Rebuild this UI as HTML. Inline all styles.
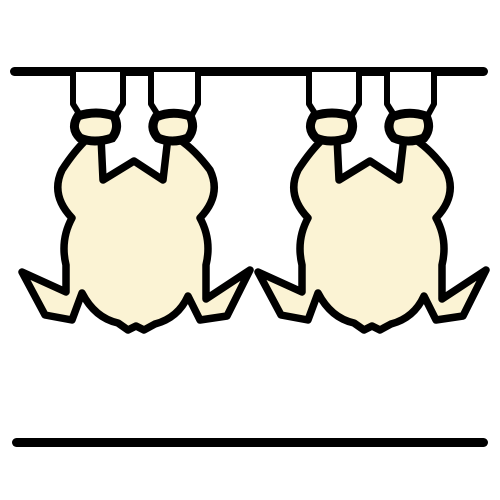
<!DOCTYPE html>
<html><head><meta charset="utf-8"><style>html,body{margin:0;padding:0;background:#fff}svg{display:block}</style></head>
<body>
<svg width="500" height="500" viewBox="0 0 500 500">
<defs>
<g id="chicken">
  <path d="M73,72 V104 L80,115 H116 L123,104 V72" fill="#fff" stroke="#000" stroke-width="6" stroke-linejoin="round"/>
  <path d="M151,72 V104 L158,115 H192 L198,104 V72" fill="#fff" stroke="#000" stroke-width="6" stroke-linejoin="round"/>
  <path d="M101,137 L103,180 L134,161 L163,180 L168,137 L180,140 Q195,150 210,170 Q222,195 200,218 Q212,240 206,265 L206,299 L250,270 L227,316 L200,320 L188,296 Q178,318 155,324 L144,330 L136,326 L128,330 L118,323 Q95,318 82,293 L72,320 L45,315 L22,272 L66,292 L66,265 Q60,240 72,218 Q50,195 62,170 Q75,150 88,138 Z" fill="#FBF3D4" stroke="#000" stroke-width="7.5" stroke-linejoin="round"/>
  <path d="M78,116 Q70,128 80,138 Q94,144 112,138 Q120,128 114,116 Q96,110 78,116 Z" fill="#FBF3D4" stroke="#000" stroke-width="9"/>
  <path d="M156,117 Q149,128 158,138 Q172,144 188,138 Q196,128 190,116 Q172,110 156,117 Z" fill="#FBF3D4" stroke="#000" stroke-width="9"/>
</g>
</defs>
<rect x="10" y="67" width="478" height="9" rx="4.5" fill="#000"/>
<use href="#chicken"/>
<use href="#chicken" transform="translate(236,0)"/>
<rect x="12" y="438" width="476" height="9" rx="4.5" fill="#000"/>
</svg>
</body></html>
